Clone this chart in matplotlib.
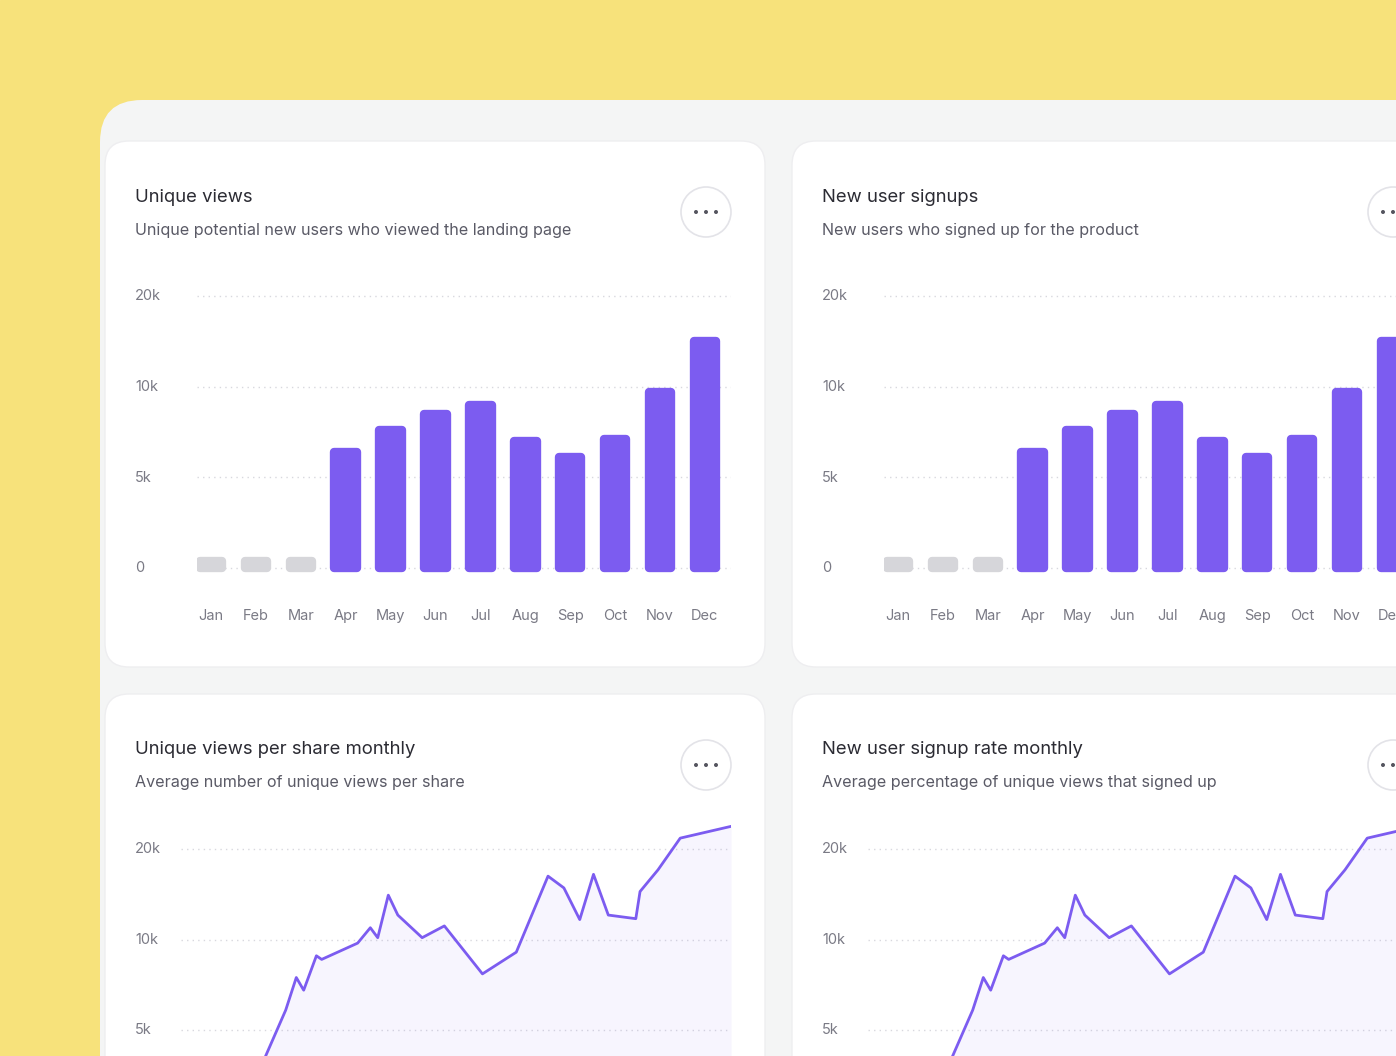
import numpy as np
import matplotlib
matplotlib.use("Agg")
import matplotlib.pyplot as plt
from matplotlib.patches import FancyBboxPatch, Circle

plt.rcParams['font.family'] = ['Inter', 'DejaVu Sans']

months = ["Jan","Feb","Mar","Apr","May","Jun","Jul","Aug","Sep","Oct","Nov","Dec"]
bar_values = [400, 400, 400, 6400, 7600, 8500, 9000, 7000, 6100, 7100, 9700, 15000]
bar_inactive = [True, True, True] + [False]*9
line_weeks = [8.0, 9.9, 10.9, 11.6, 12.8, 13.3, 16.7, 17.9, 18.6, 19.6, 20.5, 22.8, 24.9,
              28.5, 31.7, 34.7, 36.2, 37.7, 39.0, 40.4, 43.0, 43.4, 45.1, 47.2, 52.0]
line_values = [3560, 6100, 7900, 7200, 9100, 8900, 9800, 11300, 10200, 14900, 12700, 10200, 11500,
               8100, 9300, 17000, 15700, 12200, 17200, 12700, 12300, 15300, 17700, 21200, 22500]
tick_vals = [0, 5000, 10000, 20000]
tick_labels = ["0", "5k", "10k", "20k"]
cards = [
    ("Unique views", "Unique potential new users who viewed the landing page", "bar"),
    ("New user signups", "New users who signed up for the product", "bar"),
    ("Unique views per share monthly", "Average number of unique views per share", "line"),
    ("New user signup rate monthly", "Average percentage of unique views that signed up", "line"),
]

W, H = 1396, 1056
PURPLE = "#7C5CF0"
GRAY_BAR = "#D6D6DA"

kv = np.array(tick_vals + [30000], float)
ki = np.array([0, 1, 2, 3, 4], float)
def fwd(v):
    v = np.asarray(v, float)
    return np.where(v < 0, v / 5000, np.interp(v, kv, ki))
def inv(i):
    i = np.asarray(i, float)
    return np.where(i < 0, i * 5000, np.interp(i, ki, kv))

fig = plt.figure(figsize=(W/100, H/100), dpi=100)
bg = fig.add_axes([0, 0, 1, 1])
bg.set_xlim(0, W); bg.set_ylim(H, 0); bg.axis("off")
bg.add_patch(plt.Rectangle((0, 0), W, H, color="#F7E27B", zorder=0))
bg.add_patch(FancyBboxPatch((100, 100), 1500, 1200, boxstyle="round,pad=0,rounding_size=42",
                            fc="#F4F5F5", ec="none", zorder=1))

def px_axes(x0, y0, x1, y1):
    return fig.add_axes([x0/W, 1-y1/H, (x1-x0)/W, (y1-y0)/H])

for k, (title, sub, kind) in enumerate(cards):
    dx = 687 * (k % 2)
    dy = 553 * (k // 2)
    bg.add_patch(FancyBboxPatch((105+dx, 141+dy), 660, 526, boxstyle="round,pad=0,rounding_size=24",
                                fc="white", ec="#EEEEF0", lw=1, zorder=2))
    bg.text(135+dx, 197+dy, title, fontsize=13.3, color="#2B2B33", va="center", zorder=3)
    bg.text(135+dx, 230+dy, sub, fontsize=11.6, color="#5A5A66", va="center", zorder=3)
    bg.add_patch(Circle((706+dx, 212+dy), 25, fc="white", ec="#E3E3E8", lw=1.2, zorder=3))
    for ddx in (-10, 0, 10):
        bg.add_patch(Circle((706+dx+ddx, 212+dy), 2, fc="#55555F", ec="none", zorder=4))

    if kind == "bar":
        ax = px_axes(197+dx, 296-0.08*90.7+dy, 731+dx, 568+0.12*90.7+dy)
        ax.set_yscale("function", functions=(fwd, inv))
        ax.set_ylim(inv(-0.12), inv(3.08))
        ax.set_xlim(-0.312, 11.58)
        x = np.arange(len(months))
        cols = [GRAY_BAR if g else PURPLE for g in bar_inactive]
        ax.bar(x, bar_values, width=0.5, color=cols, edgecolor=cols, linewidth=6,
               joinstyle="round", zorder=3)
        for i, m in enumerate(months):
            bg.text(211+dx+i*44.9, 616+dy, m, fontsize=10.5, color="#7A7A85", ha="center",
                    va="center", zorder=5)
        ylab_y = [568, 478, 387, 296]
    else:
        ax = px_axes(181+dx, 247+dy, 731+dx, 567.5+dy)
        ax.set_yscale("function", functions=(fwd, inv))
        ax.set_ylim(0, inv((567.5-247)/90.5))
        ax.set_xlim(0, 52)
        ax.fill_between(line_weeks, line_values, 0, color=PURPLE, alpha=0.06, lw=0, zorder=2)
        ax.plot(line_weeks, line_values, color=PURPLE, lw=2, zorder=3)
        ylab_y = [None, 477, 387, 296]
    ax.axis("off")
    ax.patch.set_alpha(0)
    for tv in tick_vals:
        ax.axhline(tv, color="#D8D8DE", lw=1, ls=(0, (1, 3)), zorder=1)
    for lab, yy in zip(tick_labels, ylab_y):
        if yy is not None and yy + dy < H:
            bg.text(135+dx, yy+dy, lab, fontsize=10.5, color="#7A7A85", va="center", zorder=5)

fig.savefig("out.png", dpi=100)
